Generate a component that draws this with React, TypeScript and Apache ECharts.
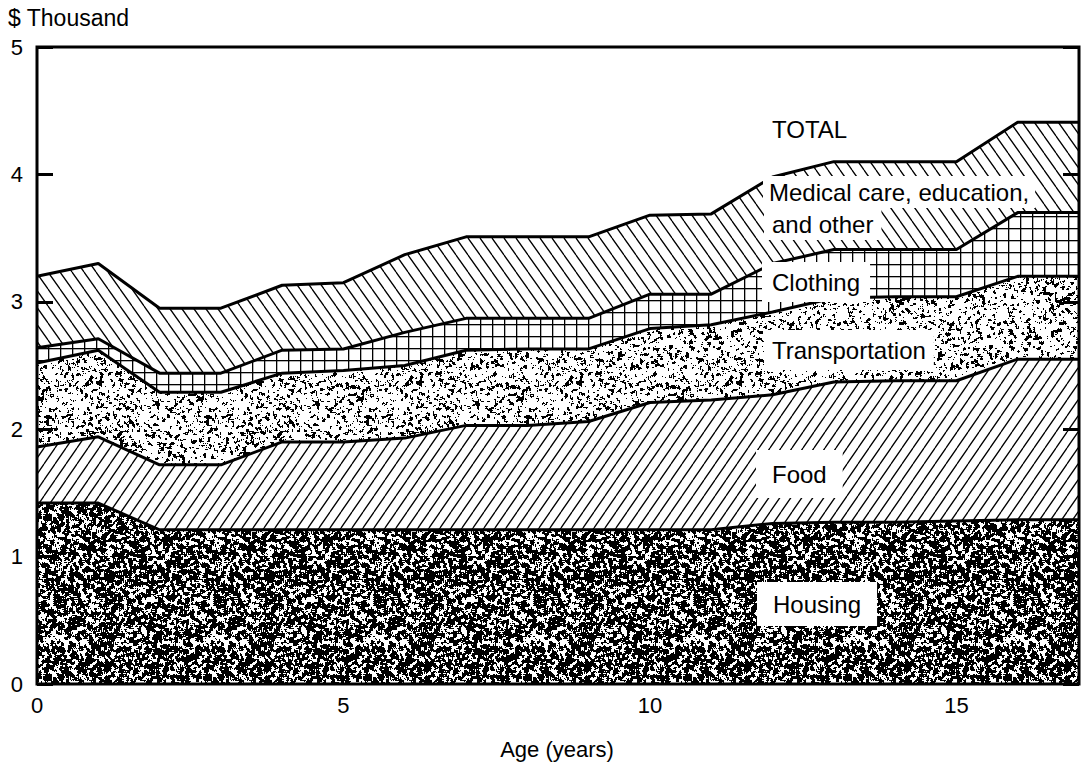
import React, { useEffect, useRef } from "react";
import * as echarts from "echarts";

// Age (years)
const ages = [0, 1, 2, 3, 4, 5, 6, 7, 8, 9, 10, 11, 12, 13, 14, 15, 16, 17];
// Annual cost components, $ thousand (stacked bottom to top)
const housing = [1.42, 1.42, 1.21, 1.21, 1.21, 1.21, 1.21, 1.21, 1.21, 1.21, 1.21, 1.21, 1.26, 1.27, 1.27, 1.28, 1.29, 1.29];
const food = [0.44, 0.52, 0.51, 0.51, 0.69, 0.69, 0.72, 0.82, 0.82, 0.85, 1.0, 1.02, 1.01, 1.1, 1.11, 1.1, 1.26, 1.26];
const transportation = [0.66, 0.68, 0.57, 0.57, 0.54, 0.56, 0.57, 0.59, 0.6, 0.57, 0.58, 0.59, 0.65, 0.66, 0.66, 0.66, 0.65, 0.65];
const clothing = [0.12, 0.09, 0.15, 0.15, 0.18, 0.17, 0.26, 0.25, 0.24, 0.24, 0.27, 0.24, 0.38, 0.38, 0.37, 0.37, 0.5, 0.5];
const medical = [0.56, 0.59, 0.51, 0.51, 0.51, 0.52, 0.61, 0.64, 0.64, 0.64, 0.62, 0.63, 0.68, 0.69, 0.69, 0.69, 0.71, 0.71];

const seriesNames = ["Housing", "Food", "Transportation", "Clothing", "Medical care, education, and other"];
const seriesValues = [housing, food, transportation, clothing, medical];

const FONT = "'Liberation Sans', Arial, sans-serif";

function mulberry32(seed: number) {
  let a = seed;
  return function () {
    a |= 0;
    a = (a + 0x6d2b79f5) | 0;
    let t = Math.imul(a ^ (a >>> 15), 1 | a);
    t = (t + Math.imul(t ^ (t >>> 7), 61 | t)) ^ t;
    return ((t ^ (t >>> 14)) >>> 0) / 4294967296;
  };
}

function noiseTile(size: number, seed: number, isBlack: (v: number) => boolean) {
  const c = document.createElement("canvas");
  c.width = size;
  c.height = size;
  const ctx = c.getContext("2d")!;
  const rnd = mulberry32(seed);
  const raw = new Float32Array(size * size);
  for (let i = 0; i < raw.length; i++) raw[i] = rnd();
  const img = ctx.createImageData(size, size);
  for (let y = 0; y < size; y++) {
    for (let x = 0; x < size; x++) {
      let s = 0;
      for (let dy = -1; dy <= 1; dy++)
        for (let dx = -1; dx <= 1; dx++) {
          const xx = (x + dx + size) % size;
          const yy = (y + dy + size) % size;
          s += raw[yy * size + xx];
        }
      const v = s / 9;
      const k = isBlack(v) ? 0 : 255;
      const p = (y * size + x) * 4;
      img.data[p] = k;
      img.data[p + 1] = k;
      img.data[p + 2] = k;
      img.data[p + 3] = 255;
    }
  }
  ctx.putImageData(img, 0, 0);
  return { image: c.toDataURL(), repeat: "repeat", imageWidth: size, imageHeight: size };
}

function hatchTile(w: number, h: number, dir: number) {
  const c = document.createElement("canvas");
  c.width = w;
  c.height = h;
  const ctx = c.getContext("2d")!;
  ctx.fillStyle = "#fff";
  ctx.fillRect(0, 0, w, h);
  ctx.strokeStyle = "#000";
  ctx.lineWidth = 1.3;
  ctx.beginPath();
  for (let k = -1; k <= 1; k++) {
    if (dir > 0) {
      ctx.moveTo(k * w, h);
      ctx.lineTo((k + 1) * w, 0);
    } else {
      ctx.moveTo(k * w, 0);
      ctx.lineTo((k + 1) * w, h);
    }
  }
  ctx.stroke();
  return { image: c.toDataURL(), repeat: "repeat", imageWidth: w, imageHeight: h };
}

function gridTile(w: number, h: number) {
  const c = document.createElement("canvas");
  c.width = w;
  c.height = h;
  const ctx = c.getContext("2d")!;
  ctx.fillStyle = "#fff";
  ctx.fillRect(0, 0, w, h);
  ctx.fillStyle = "#000";
  ctx.fillRect(0, 0, w, 1.3);
  ctx.fillRect(0, 0, 1.3, h);
  return { image: c.toDataURL(), repeat: "repeat", imageWidth: w, imageHeight: h };
}

function label(text: string, left: number, cy: number, padX = 8, padY = 6, bg = "#fff") {
  return {
    type: "text",
    x: left - padX,
    y: cy,
    z: 100,
    style: {
      text,
      font: `24px ${FONT}`,
      fill: "#000",
      verticalAlign: "middle",
      align: "left",
      backgroundColor: bg,
      padding: [padY, padX, padY, padX],
    },
  };
}

export default function App() {
  const ref = useRef<HTMLDivElement>(null);

  useEffect(() => {
    if (!ref.current) return;
    const chart = echarts.init(ref.current, null, { renderer: "svg" });

    const patterns = [
      noiseTile(160, 7, (v) => v < 0.53),
      hatchTile(11, 16, 1),
      noiseTile(160, 11, (v) => v < 0.425),
      gridTile(12, 12),
      hatchTile(12, 17, -1),
    ];

    // cumulative tops of each band
    const cumulative: number[][] = [];
    seriesValues.forEach((vals, i) => {
      cumulative.push(vals.map((v, j) => Math.round(((i > 0 ? cumulative[i - 1][j] : 0) + v) * 1000) / 1000));
    });

    // draw from the top band down so each lower band covers the one above it
    const order = [4, 3, 2, 1, 0];
    const areaSeries = order.map((i) => ({
      name: seriesNames[i],
      type: "line",
      z: 1,
      silent: true,
      symbol: "none",
      data: ages.map((a, j) => [a, cumulative[i][j]]),
      lineStyle: { width: 0 },
      areaStyle: { color: patterns[i], opacity: 1, origin: "start" },
    }));
    const lineSeries = order.map((i) => ({
      name: seriesNames[i] + " edge",
      type: "line",
      z: 3,
      silent: true,
      symbol: "none",
      data: ages.map((a, j) => [a, cumulative[i][j]]),
      lineStyle: { color: "#000", width: 3 },
    }));

    chart.setOption({
      animation: false,
      backgroundColor: "#fff",
      grid: {
        left: 37,
        right: 12,
        top: 47,
        bottom: 85,
        show: true,
        borderColor: "#000",
        borderWidth: 3,
        backgroundColor: "transparent",
        z: 5,
      },
      xAxis: {
        type: "value",
        min: 0,
        max: 17,
        interval: 5,
        axisLine: { show: false },
        axisTick: { show: false },
        splitLine: { show: false },
        axisLabel: {
          color: "#000",
          fontSize: 22,
          fontFamily: FONT,
          margin: 10,
          showMaxLabel: false,
        },
      },
      yAxis: [
        {
          type: "value",
          min: 0,
          max: 5,
          interval: 1,
          position: "left",
          axisLine: { show: false },
          axisTick: { show: true, inside: true, length: 16, lineStyle: { color: "#000", width: 3 } },
          splitLine: { show: false },
          axisLabel: { color: "#000", fontSize: 22, fontFamily: FONT, margin: 14 },
          z: 6,
        },
        {
          type: "value",
          min: 0,
          max: 5,
          interval: 1,
          position: "right",
          axisLine: { show: false },
          axisTick: { show: true, inside: true, length: 16, lineStyle: { color: "#000", width: 3 } },
          splitLine: { show: false },
          axisLabel: { show: false },
          z: 6,
        },
      ],
      graphic: [
        {
          type: "text",
          x: 8,
          y: 18,
          style: { text: "$ Thousand", font: `23px ${FONT}`, fill: "#000", verticalAlign: "middle" },
        },
        {
          type: "text",
          x: 557,
          y: 749,
          style: { text: "Age (years)", font: `22px ${FONT}`, fill: "#000", align: "center", verticalAlign: "middle" },
        },
        label("TOTAL", 772, 129, 0, 0, "transparent"),
        label("Medical care, education,", 769, 192, 6, 4),
        label("and other", 772, 224, 8, 4),
        label("Clothing", 772, 282, 10, 8),
        label("Transportation", 772, 350, 8, 8),
        label("Food", 772, 474, 16, 12),
        label("Housing", 773, 604, 16, 10),
      ],
      series: [...areaSeries, ...lineSeries],
    });

    return () => chart.dispose();
  }, []);

  return <div ref={ref} style={{ position: "absolute", left: 0, top: 0, width: 1091, height: 769 }} />;
}
